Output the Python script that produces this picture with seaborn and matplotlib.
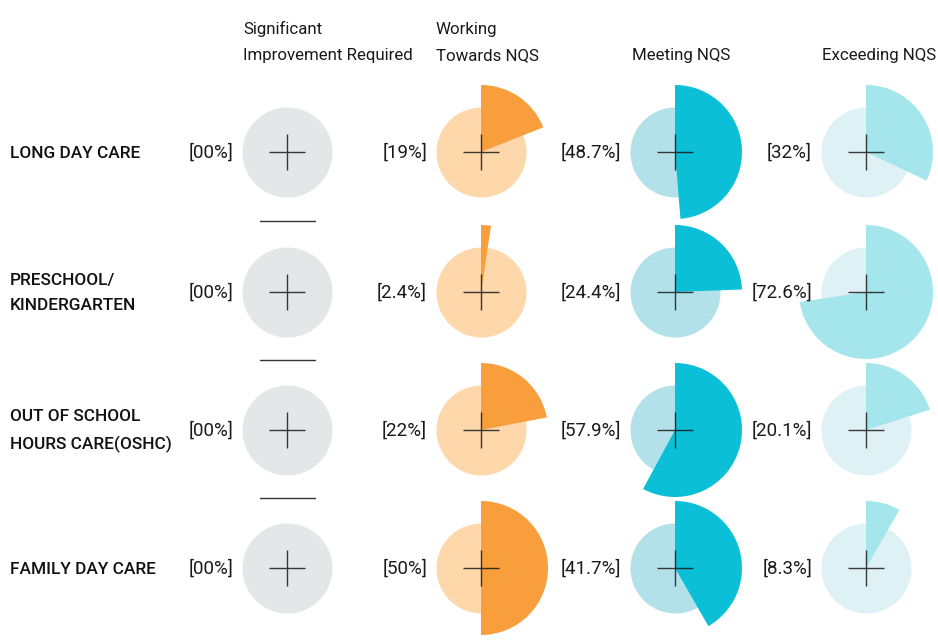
import numpy as np
import pandas as pd
import seaborn as sns
import matplotlib
matplotlib.use("Agg")
import matplotlib.pyplot as plt
from matplotlib.patches import Wedge

# ---- data ----
categories = ["LONG DAY CARE", "PRESCHOOL/\nKINDERGARTEN",
              "OUT OF SCHOOL\nHOURS CARE(OSHC)", "FAMILY DAY CARE"]
ratings = ["Significant\nImprovement Required", "Working\nTowards NQS",
           "Meeting NQS", "Exceeding NQS"]
significant = [0, 0, 0, 0]
working = [19, 2.4, 22, 50]
meeting = [48.7, 24.4, 57.9, 41.7]
exceeding = [32, 72.6, 20.1, 8.3]

bg_colors = ["#e5e6e8", "#fed7ab", "#b2e1ea", "#def1f5"]
fg_colors = ["#a9aaad", "#f89e3c", "#0bbfd6", "#a4e6eb"]

sns.set_theme(style="white")
plt.rcParams['font.family'] = ['Roboto', 'DejaVu Sans']

W, H = 938, 642
fig = plt.figure(figsize=(W / 100, H / 100), dpi=100)
ax = fig.add_axes([0, 0, 1, 1])
ax.set_xlim(0, W)
ax.set_ylim(H, 0)
ax.axis("off")

col_x = [287, 481, 675, 866]
row_y = [152, 292, 430, 568]
bg_r = 45
wedge_r = 67
px2pt = 72 / 100

series = [significant, working, meeting, exceeding]
rows = []
for ci, (rating, vals) in enumerate(zip(ratings, series)):
    for ri, (cat, v) in enumerate(zip(categories, vals)):
        rows.append(dict(rating=rating, category=cat, value=v,
                         x=col_x[ci], y=row_y[ri], ci=ci, ri=ri))
df = pd.DataFrame(rows)

# background circles
for ci in range(4):
    sub = df[df.ci == ci]
    sns.scatterplot(data=sub, x="x", y="y", ax=ax, s=(2 * bg_r * px2pt) ** 2,
                    color=bg_colors[ci], linewidth=0, legend=False, zorder=1)

# wedges (clockwise from 12 o'clock; y axis inverted)
for _, r in df.iterrows():
    if r.value > 0:
        ax.add_patch(Wedge((r.x, r.y), wedge_r, -90, -90 + 360 * r.value / 100,
                           facecolor=fg_colors[r.ci], edgecolor="none", zorder=2))

# crosshairs
sns.scatterplot(data=df, x="x", y="y", ax=ax, marker="+", s=(36 * px2pt) ** 2,
                color="#1a1a1a", linewidth=1.0, alpha=0.85, legend=False, zorder=3)

# value labels
for _, r in df.iterrows():
    txt = "00" if r.value == 0 else f"{r.value:g}"
    ax.text(r.x - 54, r.y + 1, f"[{txt}%]", ha="right", va="center",
            fontsize=13.5, color="#1a1a1a", zorder=4)

# row labels
for ri, cat in enumerate(categories):
    ax.text(10, row_y[ri] + 1, cat, ha="left", va="center", fontsize=12.4,
            fontweight="medium", color="#111111", linespacing=1.85)

# separators
for ri in range(3):
    ysep = (row_y[ri] + row_y[ri + 1]) / 2 - 1
    ax.plot([260, 315], [ysep, ysep], color="#333333", lw=1.0)

# column headers
head_x = [243, 436, 632, 822]
for ci, rat in enumerate(ratings):
    ax.text(head_x[ci], 63, rat, ha="left", va="bottom", fontsize=12.2,
            color="#1a1a1a", linespacing=1.95)

fig.savefig("out.png", dpi=100)
